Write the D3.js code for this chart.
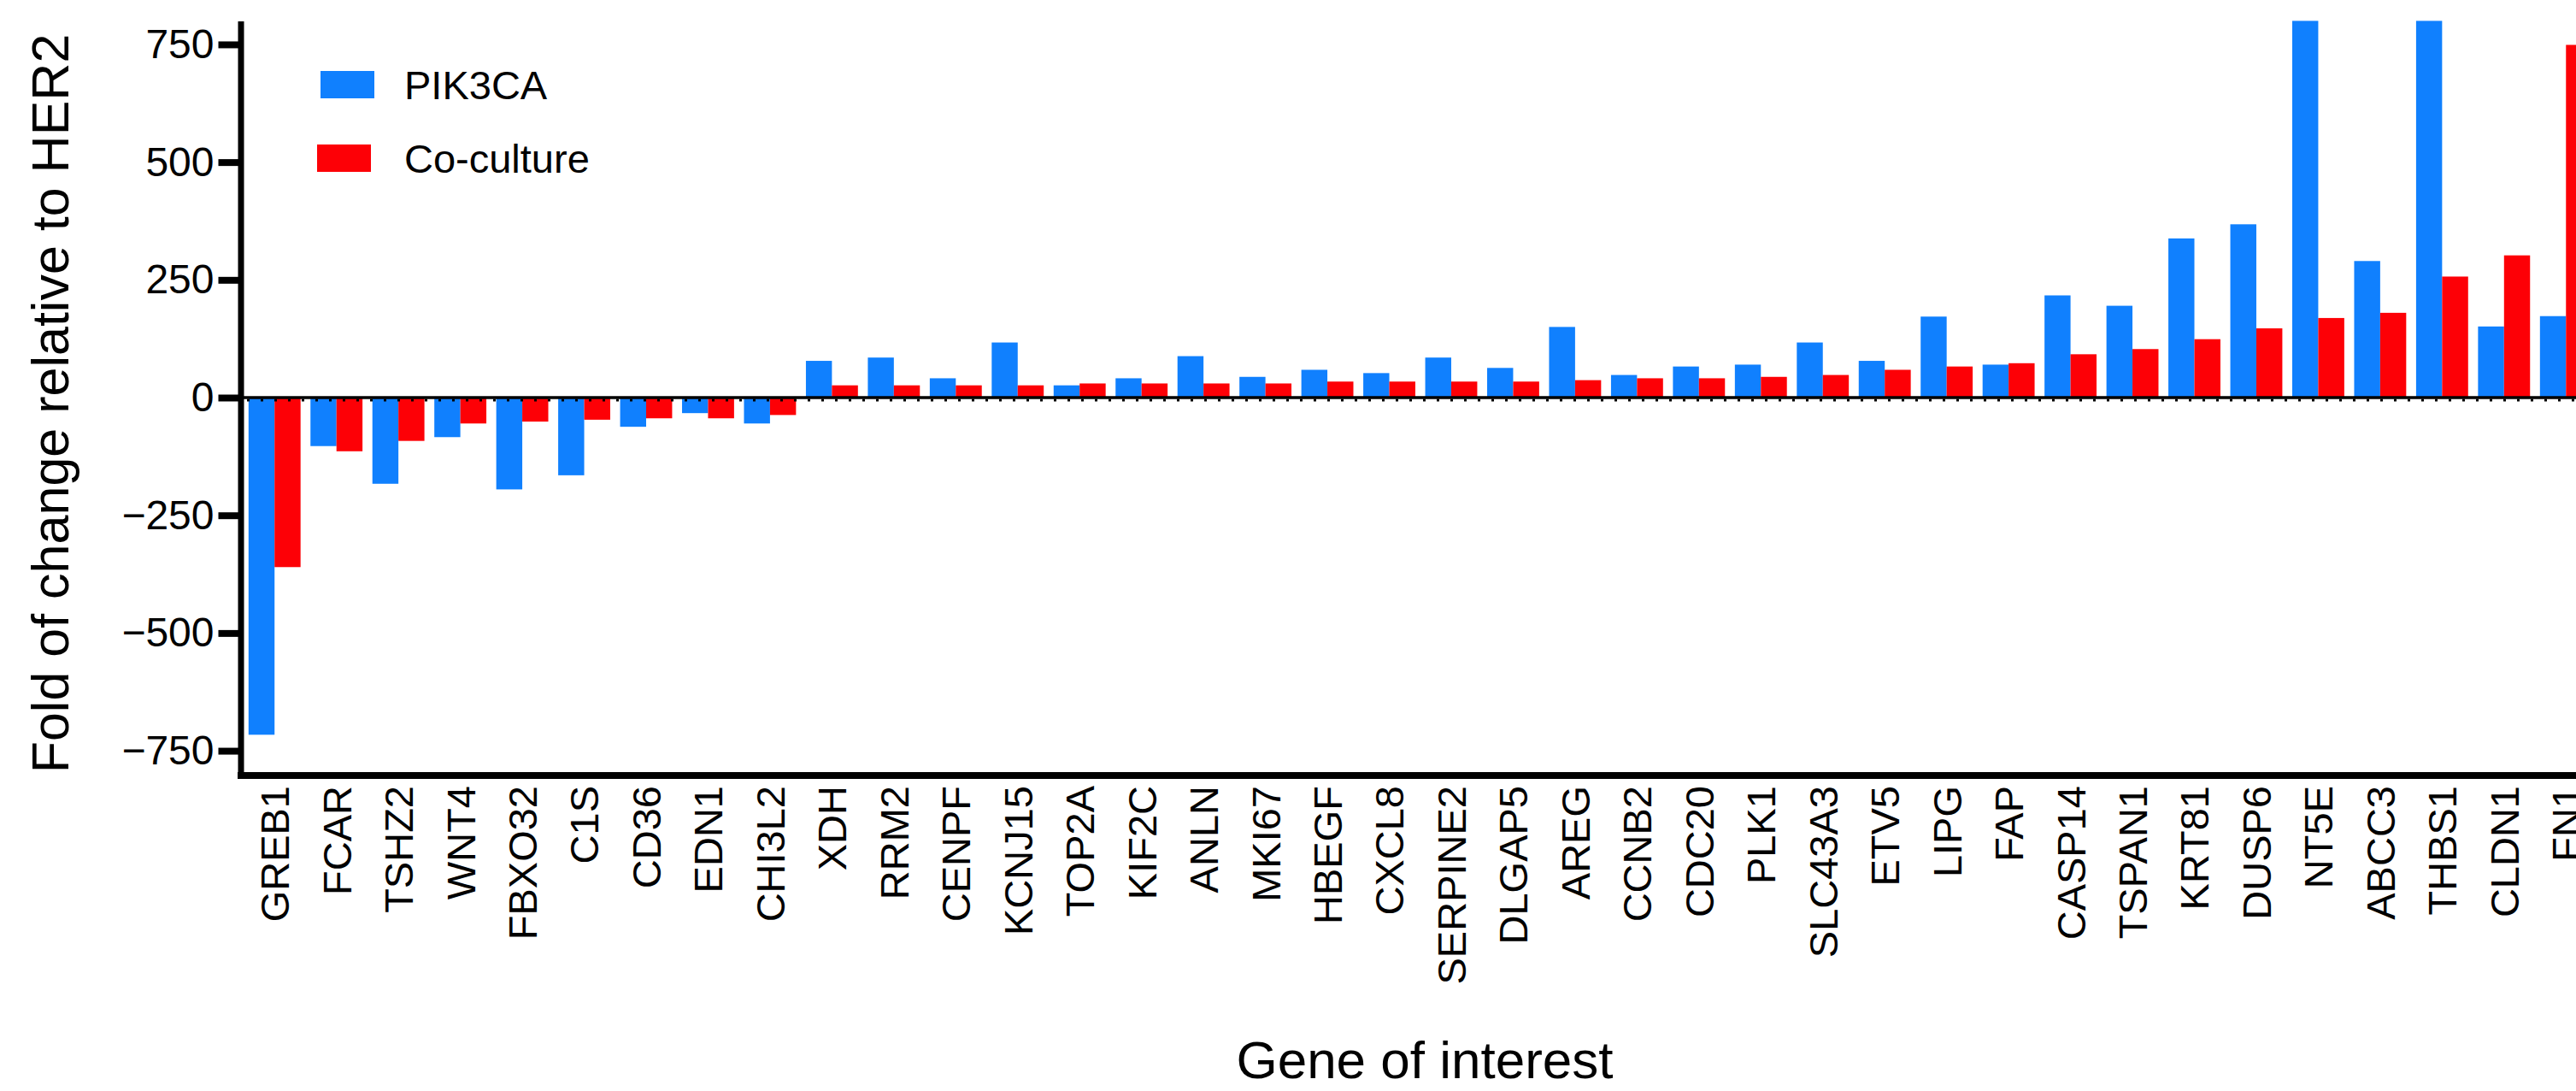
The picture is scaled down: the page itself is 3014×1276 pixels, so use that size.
<!DOCTYPE html>
<html>
<head>
<meta charset="utf-8">
<script src="https://cdn.jsdelivr.net/npm/d3@7"></script>
<style>
  body { margin: 0; background: #fff; }
  svg { display: block; font-family: 'Liberation Sans', Arial, sans-serif; }
</style>
</head>
<body>
<div id="chart"></div>
<script>
// genes, in plotted order
var genes = ['GREB1', 'FCAR', 'TSHZ2', 'WNT4', 'FBXO32', 'C1S', 'CD36', 'EDN1', 'CHI3L2',
  'XDH', 'RRM2', 'CENPF', 'KCNJ15', 'TOP2A', 'KIF2C', 'ANLN', 'MKI67', 'HBEGF', 'CXCL8',
  'SERPINE2', 'DLGAP5', 'AREG', 'CCNB2', 'CDC20', 'PLK1', 'SLC43A3', 'ETV5', 'LIPG', 'FAP',
  'CASP14', 'TSPAN1', 'KRT81', 'DUSP6', 'NT5E', 'ABCC3', 'THBS1', 'CLDN1', 'FN1'];

var pik3ca = [-716, -103, -183, -84, -195, -165, -62, -33, -55,
  78, 85, 41, 117, 26, 41, 88, 44, 59, 52,
  85, 63, 150, 48, 66, 70, 117, 78, 172, 70,
  217, 195, 338, 368, 800, 290, 800, 151, 173];

var coculture = [-360, -114, -92, -55, -51, -47, -44, -44, -37,
  26, 26, 26, 26, 30, 30, 30, 30, 34, 34,
  34, 34, 37, 41, 41, 44, 48, 59, 66, 73,
  92, 103, 124, 147, 169, 180, 257, 302, 749];

var seriesNames = ['PIK3CA', 'Co-culture'];
var yTicks = [-750, -500, -250, 0, 250, 500, 750];

var width = 3014;
var height = 1276;
var axisX = 281.5;
var axisBottomY = 907;
var colors = { 'PIK3CA': '#1080fe', 'Co-culture': '#fd0006' };

var svg = d3
  .select('#chart')
  .append('svg')
  .attr('width', width)
  .attr('height', height);

svg.append('rect').attr('width', width).attr('height', height).attr('fill', '#fff');

// scales
var y = d3.scaleLinear().domain([-800, 800]).range([905.6, 24.4]);

var x0 = d3
  .scaleBand()
  .domain(genes)
  .range([285, 3038.5])
  .paddingInner(0.16)
  .paddingOuter(0.08);

var x1 = d3
  .scaleBand()
  .domain(seriesNames)
  .range([0, x0.bandwidth()]);

var rows = genes.map((g, i) => ({
  gene: g,
  values: [
    { key: 'PIK3CA', value: pik3ca[i] },
    { key: 'Co-culture', value: coculture[i] }
  ]
}));

// bars
var groups = svg
  .append('g')
  .attr('class', 'bars')
  .selectAll('g')
  .data(rows)
  .enter()
  .append('g')
  .attr('transform', d => 'translate(' + x0(d.gene) + ',0)');

groups
  .selectAll('rect')
  .data(d => d.values)
  .enter()
  .append('rect')
  .attr('x', d => x1(d.key))
  .attr('y', d => Math.min(y(d.value), y(0)))
  .attr('width', x1.bandwidth())
  .attr('height', d => Math.abs(y(d.value) - y(0)))
  .attr('fill', d => colors[d.key]);

// zero line with its small ticks
svg
  .append('line')
  .attr('x1', axisX)
  .attr('x2', width)
  .attr('y1', y(0))
  .attr('y2', y(0))
  .attr('stroke', '#000')
  .attr('stroke-width', 3.3);

svg
  .append('line')
  .attr('x1', 289)
  .attr('x2', width)
  .attr('y1', y(0) + 3)
  .attr('y2', y(0) + 3)
  .attr('stroke', '#000')
  .attr('stroke-width', 3)
  .attr('stroke-dasharray', '3,13');

// y axis
var yAxis = d3
  .axisLeft(y)
  .tickValues(yTicks)
  .tickSize(26)
  .tickSizeOuter(0)
  .tickPadding(5);

var yAxisGroup = svg
  .append('g')
  .attr('class', 'y-axis')
  .attr('transform', 'translate(' + axisX + ',0)')
  .call(yAxis);

yAxisGroup.select('.domain').attr('stroke', '#000').attr('stroke-width', 7);
yAxisGroup.selectAll('.tick line').attr('stroke', '#000').attr('stroke-width', 8);
yAxisGroup
  .selectAll('.tick text')
  .attr('fill', '#000')
  .style('font-size', '48px')
  .style('font-family', "'Liberation Sans', Arial, sans-serif");

// x axis
var xAxis = d3.axisBottom(x0).tickSize(0);
var xAxisGroup = svg
  .append('g')
  .attr('class', 'x-axis')
  .attr('transform', 'translate(0,' + axisBottomY + ')')
  .call(xAxis);

xAxisGroup.select('.domain').remove();
xAxisGroup
  .selectAll('.tick text')
  .attr('transform', 'rotate(-90)')
  .attr('x', -12)
  .attr('y', 0)
  .attr('dy', '0.36em')
  .attr('fill', '#000')
  .style('text-anchor', 'end')
  .style('font-size', '47px')
  .style('font-family', "'Liberation Sans', Arial, sans-serif");

svg
  .append('line')
  .attr('x1', axisX - 3.5)
  .attr('x2', width)
  .attr('y1', axisBottomY)
  .attr('y2', axisBottomY)
  .attr('stroke', '#000')
  .attr('stroke-width', 8);

// axis titles
svg
  .append('text')
  .attr('transform', 'translate(80,472) rotate(-90)')
  .attr('text-anchor', 'middle')
  .style('font-size', '61px')
  .text('Fold of change relative to HER2');

svg
  .append('text')
  .attr('x', 1667)
  .attr('y', 1261)
  .attr('text-anchor', 'middle')
  .style('font-size', '62px')
  .text('Gene of interest');

// legend
var legend = [
  { key: 'PIK3CA', rx: 375, ry: 83 },
  { key: 'Co-culture', rx: 371, ry: 169 }
];

var legendItems = svg
  .append('g')
  .attr('class', 'legend')
  .selectAll('g')
  .data(legend)
  .enter()
  .append('g');

legendItems
  .append('rect')
  .attr('x', d => d.rx)
  .attr('y', d => d.ry)
  .attr('width', 63)
  .attr('height', 32)
  .attr('fill', d => colors[d.key]);

legendItems
  .append('text')
  .attr('x', 473)
  .attr('y', d => d.ry + 33)
  .style('font-size', '47px')
  .text(d => d.key);
</script>
</body>
</html>
